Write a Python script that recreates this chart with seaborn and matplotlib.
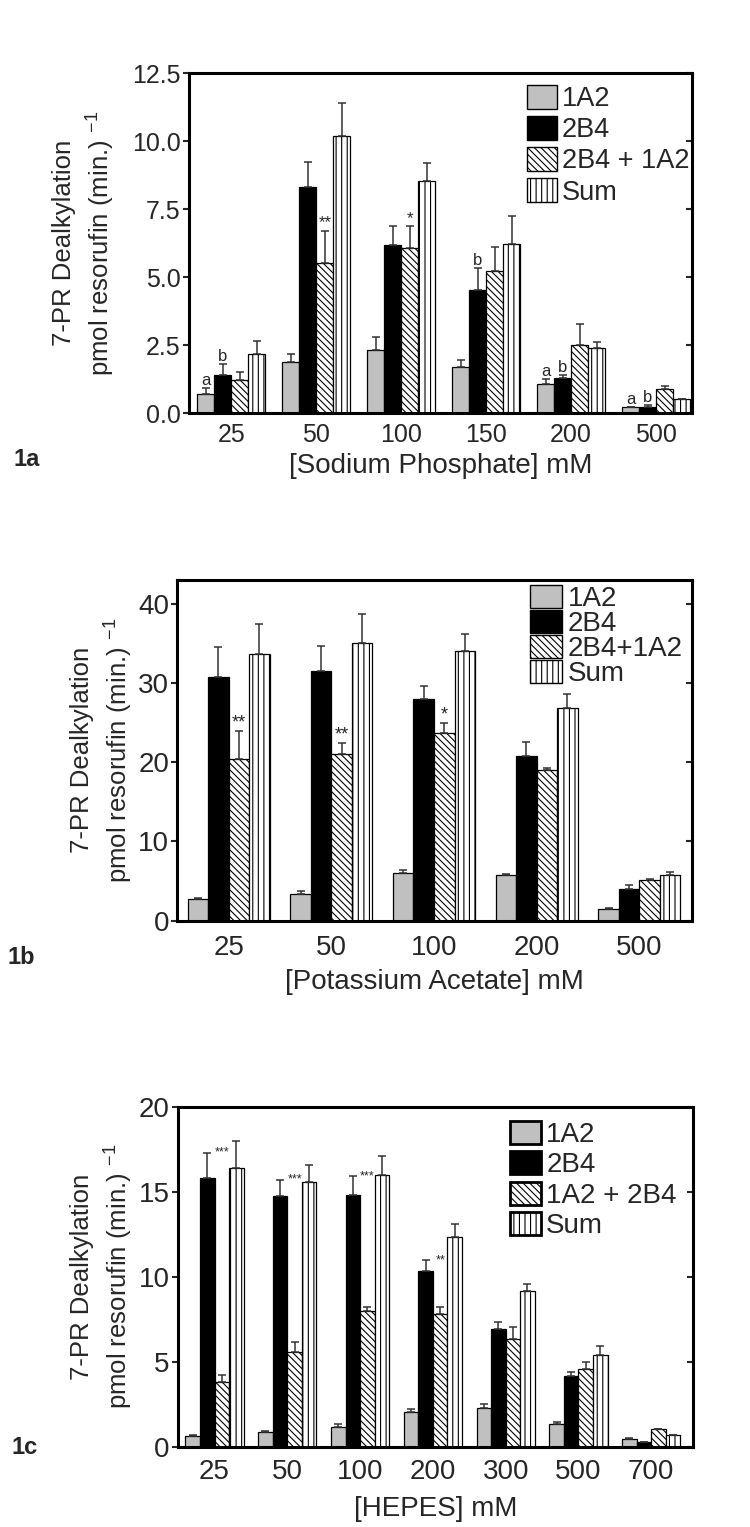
import numpy as np
import pandas as pd
import matplotlib
matplotlib.use('Agg')
import matplotlib.pyplot as plt
import matplotlib.lines as mlines
import seaborn as sns

# 1a - sodium phosphate
conc_a = ['25', '50', '100', '150', '200', '500']
a_1a2 = [0.70, 1.87, 2.32, 1.70, 1.08, 0.22]
a_1a2_err = [0.22, 0.33, 0.49, 0.27, 0.19, 0.03]
a_2b4 = [1.41, 8.32, 6.18, 4.53, 1.31, 0.22]
a_2b4_err = [0.40, 0.93, 0.69, 0.81, 0.10, 0.10]
a_mix = [1.23, 5.54, 6.08, 5.22, 2.51, 0.88]
a_mix_err = [0.28, 1.18, 0.82, 0.89, 0.77, 0.12]
a_sum = [2.17, 10.21, 8.54, 6.24, 2.41, 0.51]
a_sum_err = [0.50, 1.20, 0.66, 1.00, 0.20, 0.00]
labels_a = ['1A2', '2B4', '2B4 + 1A2', 'Sum']

# 1b - potassium acetate
conc_b = ['25', '50', '100', '200', '500']
b_1a2 = [2.74, 3.40, 6.00, 5.80, 1.48]
b_1a2_err = [0.10, 0.40, 0.45, 0.10, 0.10]
b_2b4 = [30.8, 31.5, 28.0, 20.8, 4.04]
b_2b4_err = [3.8, 3.2, 1.6, 1.7, 0.47]
b_mix = [20.4, 21.0, 23.7, 19.0, 5.14]
b_mix_err = [3.5, 1.4, 1.2, 0.3, 0.13]
b_sum = [33.6, 35.0, 34.0, 26.8, 5.72]
b_sum_err = [3.9, 3.7, 2.2, 1.8, 0.43]
labels_b = ['1A2', '2B4', '2B4+1A2', 'Sum']

# 1c - HEPES
conc_c = ['25', '50', '100', '200', '300', '500', '700']
c_1a2 = [0.64, 0.89, 1.17, 2.02, 2.26, 1.36, 0.43]
c_1a2_err = [0.05, 0.03, 0.19, 0.18, 0.23, 0.12, 0.08]
c_2b4 = [15.8, 14.75, 14.82, 10.33, 6.90, 4.14, 0.29]
c_2b4_err = [1.50, 0.95, 1.10, 0.64, 0.45, 0.28, 0.00]
c_mix = [3.81, 5.54, 8.00, 7.78, 6.32, 4.59, 1.03]
c_mix_err = [0.41, 0.62, 0.19, 0.43, 0.70, 0.39, 0.00]
c_sum = [16.4, 15.56, 15.97, 12.35, 9.14, 5.41, 0.68]
c_sum_err = [1.56, 1.03, 1.15, 0.74, 0.43, 0.49, 0.00]
labels_c = ['1A2', '2B4', '1A2 + 2B4', 'Sum']

# significance marks: (group, series under the mark, series whose error top sets height, text)
marks_a = [(0, 0, 0, 'a'), (0, 1, 1, 'b'), (1, 2, 2, '**'), (2, 2, 2, '*'),
           (3, 1, 1, 'b'), (4, 0, 0, 'a'), (4, 1, 1, 'b'), (5, 0, 0, 'a'), (5, 1, 1, 'b')]
marks_b = [(0, 2, 2, '**'), (1, 2, 2, '**'), (2, 2, 2, '*')]
marks_c = [(0, 2, 1, '***'), (1, 2, 1, '***'), (2, 2, 1, '***'), (3, 2, 1, '**')]

sns.set_style('ticks')
plt.rcParams['font.family'] = ['Liberation Sans', 'DejaVu Sans']
plt.rcParams['mathtext.fontset'] = 'custom'
plt.rcParams['mathtext.rm'] = 'Liberation Sans'
plt.rcParams['mathtext.it'] = 'Liberation Sans:italic'
plt.rcParams['hatch.linewidth'] = 0.8

colors = ['#c0c0c0', 'black', 'white', 'white']
hatches = ['', '', '\\\\\\\\\\', '|||']


def panel(ax, conc, vals, errs, labels, marks, ylim, yticks, fmt, xlim,
          xlabel, tick_fs, tick_pad, xlab_pad, leg_fs, leg_anchor, leg_kw,
          mark_fs, handle_lw):
    df = pd.concat([pd.DataFrame({'conc': conc, 'rate': v, 'enzyme': lab})
                    for v, lab in zip(vals, labels)])
    sns.barplot(data=df, x='conc', y='rate', hue='enzyme', order=conc,
                hue_order=labels, palette=colors, saturation=1, errorbar=None,
                edgecolor='black', linewidth=0.9, width=0.8, ax=ax, legend=False)
    bars = list(ax.containers)
    for cont, v, e, h in zip(bars, vals, errs, hatches):
        for p in cont:
            p.set_hatch(h)
        xs = [p.get_x() + p.get_width() / 2 for p in cont]
        ax.errorbar(xs, v, yerr=[np.zeros(len(e)), e], fmt='none', ecolor='#333333',
                    elinewidth=1.1, capsize=3.2, capthick=1.1, zorder=3)
    for g, s, anchor, txt in marks:
        p = bars[s].patches[g]
        y = vals[anchor][g] + errs[anchor][g]
        ax.text(p.get_x() + p.get_width() / 2, y, txt, ha='center',
                va='center' if anchor != s else 'bottom', fontsize=mark_fs)

    ax.set_xlim(*xlim)
    ax.set_ylim(*ylim)
    ax.set_yticks(yticks)
    ax.set_yticklabels([fmt.format(t) for t in yticks])
    ax.set_ylabel('')
    ax.set_xlabel(xlabel, fontsize=20, labelpad=xlab_pad)
    ax.tick_params(axis='x', length=0, pad=tick_pad, labelsize=tick_fs)
    ax.tick_params(axis='y', direction='out', length=4, width=1.5, right=True,
                   labelsize=tick_fs, pad=2)
    for t in ax.yaxis.get_major_ticks():
        t.tick2line.set_marker(mlines.TICKLEFT)
    for sp in ax.spines.values():
        sp.set_linewidth(2.2)
        sp.set_color('black')

    leg = ax.legend([c.patches[0] for c in bars], labels, loc='upper left',
                    bbox_to_anchor=leg_anchor, frameon=False, fontsize=leg_fs,
                    borderpad=0, borderaxespad=0, **leg_kw)
    for p in leg.get_patches():
        p.set_linewidth(handle_lw)


fig = plt.figure(figsize=(7.5, 15.27), dpi=100)
ax_a = fig.add_axes([0.2519, 0.7293, 0.6704, 0.2227])
ax_b = fig.add_axes([0.2365, 0.3971, 0.6857, 0.2231])
ax_c = fig.add_axes([0.2375, 0.0526, 0.6861, 0.2227])

panel(ax_a, conc_a, [a_1a2, a_2b4, a_mix, a_sum],
      [a_1a2_err, a_2b4_err, a_mix_err, a_sum_err], labels_a, marks_a,
      (0, 12.5), [0, 2.5, 5, 7.5, 10, 12.5], '{:.1f}', (-0.5, 5.42),
      '[Sodium Phosphate] mM', 18, 7, 4, 19.5, (0.672, 0.965),
      dict(handlelength=1.1, handleheight=0.98, labelspacing=0.14, handletextpad=0.2),
      12, 1.0)

panel(ax_b, conc_b, [b_1a2, b_2b4, b_mix, b_sum],
      [b_1a2_err, b_2b4_err, b_mix_err, b_sum_err], labels_b, marks_b,
      (0, 43), [0, 10, 20, 30, 40], '{:.0f}', (-0.5, 4.51),
      '[Potassium Acetate] mM', 20, 10, 6, 20, (0.6856, 0.985),
      dict(handlelength=1.15, handleheight=0.91, labelspacing=-0.08, handletextpad=0.2),
      13, 1.0)

panel(ax_c, conc_c, [c_1a2, c_2b4, c_mix, c_sum],
      [c_1a2_err, c_2b4_err, c_mix_err, c_sum_err], labels_c, marks_c,
      (0, 20), [0, 5, 10, 15, 20], '{:.0f}', (-0.5, 6.57),
      '[HEPES] mM', 20, 9, 8, 20, (0.645, 0.958),
      dict(handlelength=1.1, handleheight=0.9, labelspacing=0.12, handletextpad=0.2),
      9, 2.0)

ylab = '7-PR Dealkylation\npmol resorufin (min.) $^{-1}$'
for xc, ax in [(0.1130, ax_a), (0.1370, ax_b), (0.1370, ax_c)]:
    b = ax.get_position()
    fig.text(xc, b.y0 + b.height / 2, ylab, rotation=90, ha='center', va='center',
             fontsize=18.5, linespacing=1.35, multialignment='center')

fig.text(0.018, 1 - 460 / 1527, '1a', fontsize=17, fontweight='bold', va='center')
fig.text(0.010, 1 - 957 / 1527, '1b', fontsize=17, fontweight='bold', va='center')
fig.text(0.015, 1 - 1447 / 1527, '1c', fontsize=17, fontweight='bold', va='center')

fig.savefig('out.png', dpi=100)
